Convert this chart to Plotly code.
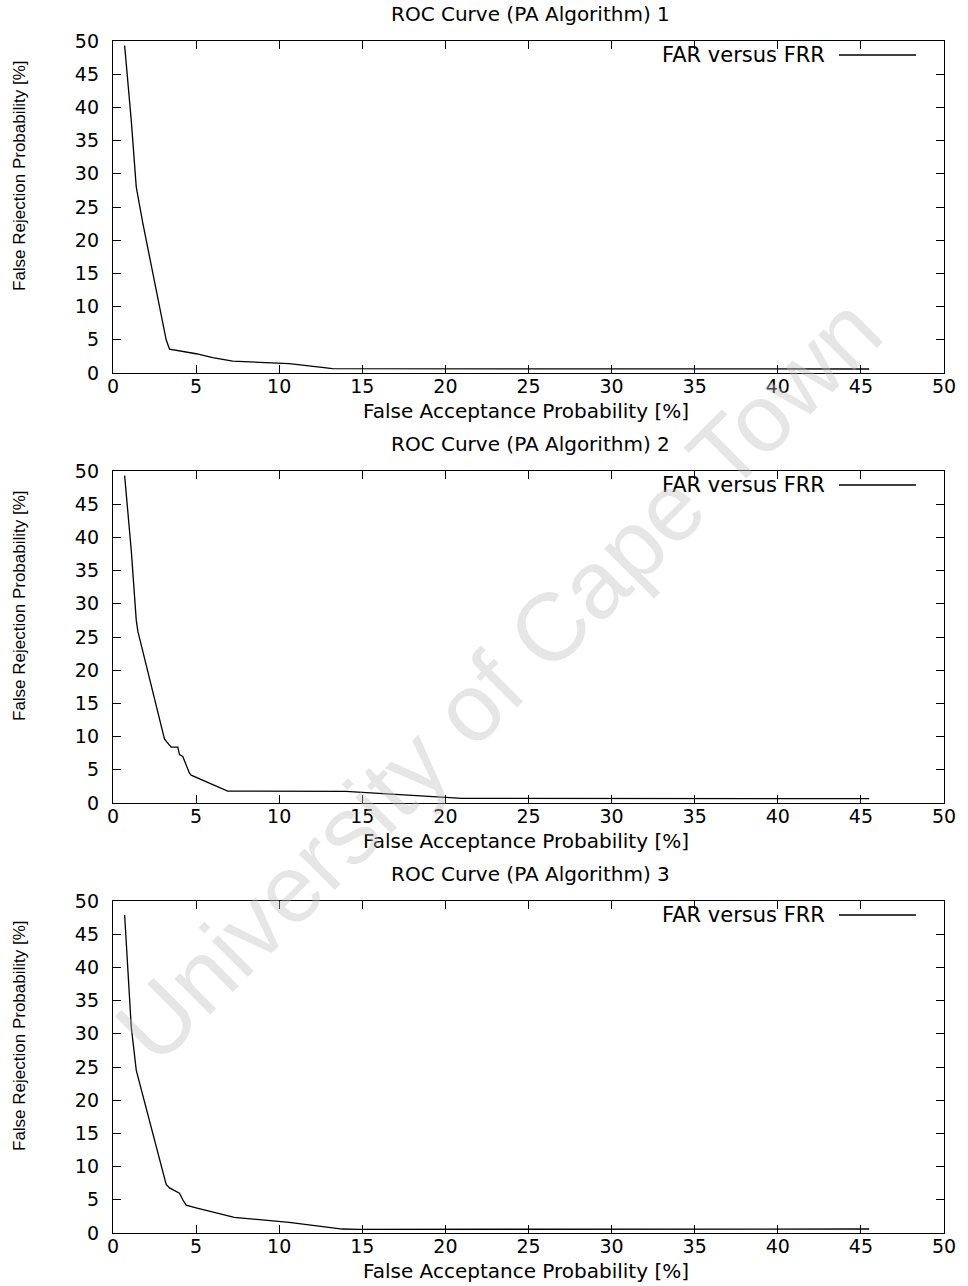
import plotly.graph_objects as go

# ROC curves: false acceptance vs false rejection probability, in percent
far_1 = [0.7, 1.1, 1.4, 1.8, 3.2, 3.4, 5.0, 6.0, 7.2, 10.6, 12.7, 13.2, 45.5]
frr_1 = [49.3, 38.0, 28.0, 22.5, 5.0, 3.6, 2.9, 2.3, 1.8, 1.4, 0.8, 0.65, 0.6]

far_2 = [0.7, 1.1, 1.4, 1.5, 3.1, 3.5, 3.9, 4.0, 4.2, 4.6, 4.7, 6.9, 14.0, 15.1, 19.4, 20.2, 21.0, 45.5]
frr_2 = [49.3, 38.0, 27.5, 25.8, 9.6, 8.4, 8.4, 7.3, 7.0, 4.5, 4.2, 1.8, 1.75, 1.6, 1.0, 0.85, 0.7, 0.65]

far_3 = [0.7, 1.1, 1.4, 3.2, 3.4, 4.0, 4.2, 4.4, 5.0, 7.3, 10.6, 13.8, 14.8, 45.5]
frr_3 = [47.9, 31.0, 24.5, 7.3, 6.8, 6.0, 5.0, 4.2, 3.8, 2.35, 1.6, 0.6, 0.55, 0.6]

titles = ["ROC Curve (PA Algorithm) 1", "ROC Curve (PA Algorithm) 2", "ROC Curve (PA Algorithm) 3"]
series_label = "FAR versus FRR"
x_title = "False Acceptance Probability [%]"
y_title = "False Rejection Probability [%]"
x_ticks = [0, 5, 10, 15, 20, 25, 30, 35, 40, 45, 50]
y_ticks = [0, 5, 10, 15, 20, 25, 30, 35, 40, 45, 50]
watermark = "University of Cape Town"

W, H = 968, 1286
ML, MR = 113, 24
PW = W - ML - MR

def px_x(px):
    return (px - ML) / PW

def px_y(py):
    return 1 - py / H

# pixel rows of each panel: (top, bottom)
panels = [(41, 373), (471, 803), (901, 1233)]

FONT = "DejaVu Sans, Liberation Sans, sans-serif"
NARROW = "Liberation Sans, Arial, sans-serif"

fig = go.Figure()
series = [(far_1, frr_1), (far_2, frr_2), (far_3, frr_3)]

layout = dict(
    width=W, height=H,
    margin=dict(l=ML, r=MR, t=0, b=0, autoexpand=False),
    paper_bgcolor="white", plot_bgcolor="white",
    showlegend=False,
)

annotations = []
shapes = []

for i, ((xs, ys), (top, bot)) in enumerate(zip(series, panels)):
    n = "" if i == 0 else str(i + 1)
    fig.add_trace(go.Scatter(
        x=xs, y=ys, mode="lines", name=series_label,
        line=dict(color="black", width=1.3),
        xaxis="x" + n, yaxis="y" + n,
    ))
    common = dict(
        showline=True, linecolor="black", linewidth=1.4,
        mirror="ticks", ticks="inside", ticklen=8, tickwidth=1.2,
        tickcolor="black", showgrid=False, zeroline=False,
        tickfont=dict(family=FONT, size=19, color="black"),
        fixedrange=True, automargin=False,
    )
    layout["xaxis" + n] = dict(
        common, range=[0, 50], tickvals=x_ticks,
        domain=[0, 1], anchor="y" + n, ticklabelstandoff=-4,
    )
    layout["yaxis" + n] = dict(
        common, range=[0, 50], tickvals=y_ticks,
        domain=[px_y(bot), px_y(top)], anchor="x" + n, ticklabelstandoff=9,
    )
    # panel title
    annotations.append(dict(
        text=titles[i], xref="paper", yref="paper",
        x=px_x(530), y=px_y(top - 27), xanchor="center", yanchor="middle",
        showarrow=False, font=dict(family=FONT, size=20, color="black"),
    ))
    # x axis title
    annotations.append(dict(
        text=x_title, xref="paper", yref="paper",
        x=px_x(526), y=px_y(bot + 38), xanchor="center", yanchor="middle",
        showarrow=False, font=dict(family=FONT, size=20, color="black"),
    ))
    # y axis title
    annotations.append(dict(
        text=y_title, xref="paper", yref="paper",
        x=px_x(19), y=px_y((top + bot) / 2 - 31), xanchor="center", yanchor="middle",
        textangle=-90, showarrow=False,
        font=dict(family=NARROW, size=17, color="black"),
    ))
    # key: label followed by a line sample
    annotations.append(dict(
        text=series_label, xref="paper", yref="paper",
        x=px_x(827), y=px_y(top + 14), xanchor="right", yanchor="middle",
        showarrow=False, font=dict(family=FONT, size=21, color="black"),
    ))
    shapes.append(dict(
        type="line", xref="paper", yref="paper",
        x0=px_x(839), x1=px_x(916), y0=px_y(top + 14), y1=px_y(top + 14),
        line=dict(color="black", width=1.3),
    ))

# diagonal watermark across the page
annotations.append(dict(
    text=watermark, xref="paper", yref="paper",
    x=px_x(498), y=px_y(680), xanchor="center", yanchor="middle",
    textangle=-45, showarrow=False,
    font=dict(family="Liberation Sans, Arial, sans-serif", size=96,
              color="rgba(190,190,190,0.38)"),
))

layout["annotations"] = annotations
layout["shapes"] = shapes
fig.update_layout(**layout)

fig.write_html("out.html")
